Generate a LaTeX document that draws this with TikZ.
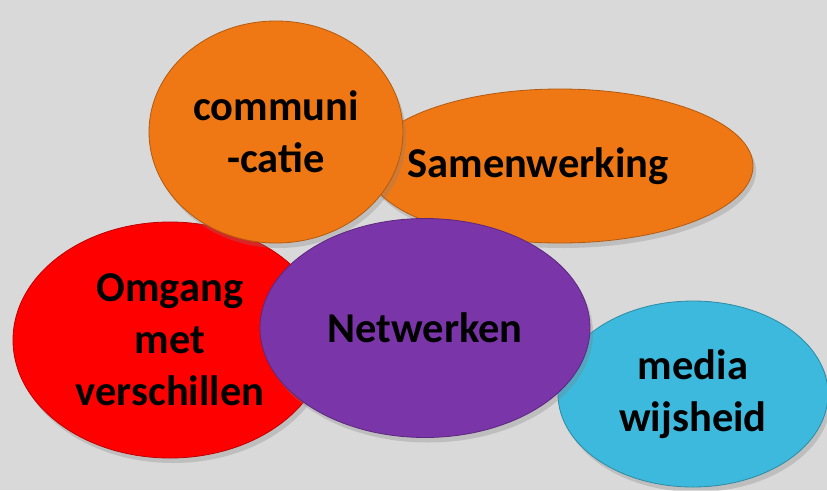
\documentclass[tikz,border=0pt]{standalone}
\usepackage{fontspec}
\setmainfont{Carlito}
\usetikzlibrary{shapes.geometric,shadows}
\definecolor{achtergrond}{HTML}{D9D9D9}
\definecolor{oranje}{HTML}{F07814}
\definecolor{rood}{HTML}{FF0000}
\definecolor{paars}{HTML}{7A36A8}
\definecolor{blauw}{HTML}{3CB9DC}
\tikzset{x=1pt, y=-1pt, font=\fontsize{42.5}{52}\selectfont\bfseries}
\tikzstyle{blob} = [ellipse, line width=0.8pt, text=black, align=center, inner sep=0pt, drop shadow={opacity=0.3, shadow xshift=3pt, shadow yshift=-5pt}]

\begin{document}
\begin{tikzpicture}
    \fill [achtergrond] (0,0) rectangle (827,490);
    \useasboundingbox (0,0) rectangle (827,490);

    \node [blob, fill=oranje, draw=oranje!75!black, minimum width=386pt, minimum height=154pt] (samenwerking) at (560,166) {\makebox[0pt]{Samenwerking\kern44pt}};
    \node [blob, fill=rood, draw=rood!75!black, minimum width=314pt, minimum height=236pt] (omgang) at (170,340) {Omgang\\met\\verschillen};
    \node [blob, fill=oranje, draw=oranje!75!black, minimum width=254pt, minimum height=222pt] (communicatie) at (276,132) {communi\\-catie};
    \node [blob, fill=blauw, draw=blauw!75!black, minimum width=270pt, minimum height=186pt] (media) at (693,394) {media\\wijsheid};
    \node [blob, fill=paars, draw=paars!75!black, minimum width=330pt, minimum height=219pt] (netwerken) at (425,328) {Netwerken};
\end{tikzpicture}
\end{document}
